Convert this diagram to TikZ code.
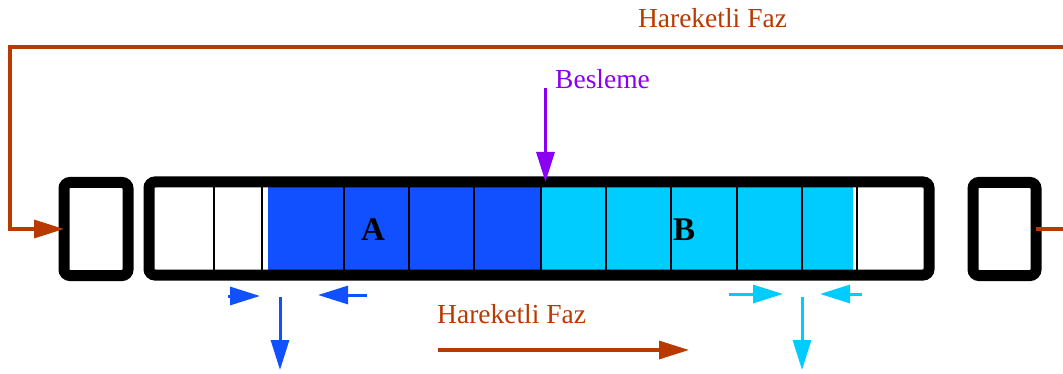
\documentclass[tikz,border=0pt]{standalone}
\usepackage{fontspec}
\setmainfont{Liberation Serif}
\usetikzlibrary{arrows.meta}
\definecolor{ora}{HTML}{B83A00}
\definecolor{vio}{HTML}{8A00F0}
\definecolor{blu}{HTML}{1150FF}
\definecolor{cya}{HTML}{00CCFF}
\begin{document}
\begin{tikzpicture}[x=1pt,y=-1pt,
  box/.style={draw=black, line width=11pt, rounded corners=6pt, inner sep=0pt, outer sep=0pt},
  lbl/.style={font=\fontsize{27.5}{27.5}\selectfont, text=ora, inner sep=0pt},
  big/.style={font=\bfseries\fontsize{33}{33}\selectfont, inner sep=0pt},
  tip/.style={-{Triangle[length=30pt,width=18pt]}},
  oline/.style={draw=ora, line width=3.2pt, tip},
  vline/.style={draw=vio, line width=3.2pt, tip},
  bline/.style={draw=blu, line width=3pt, tip},
  cline/.style={draw=cya, line width=3pt, tip},
  cell/.style={draw=black, line width=2.2pt}]
\useasboundingbox (0,0) rectangle (1063,374);
% cell fills
\fill[blu] (268,186) rectangle (541,270);
\fill[cya] (541,186) rectangle (853,270);
\foreach \x in {214,262,344,409,474,541,606,671,737,802,857}
  \draw[cell] (\x,186) -- (\x,270);
% boxes
\node[box, minimum width=64pt, minimum height=93pt] (lbox) at (96,229) {};
\node[box, minimum width=780pt, minimum height=93pt] (bar) at (539,228.5) {};
\node[box, minimum width=63pt, minimum height=93pt] (rbox) at (1004.5,229) {};
% labels
\node[big] (A) at (373,230) {A};
\node[big] (B) at (684,230) {B};
\node[lbl, anchor=base] (top) at (712.5,28) {Hareketli Faz};
\node[lbl, text=vio, anchor=base west] (bes) at (555,89) {Besleme};
\node[lbl, anchor=base west] (bot) at (437,323) {Hareketli Faz};
% feedback loop
\coordinate (rt) at (1080,229);
\coordinate (tl) at (10,47);
\draw[oline] (rbox.east) -- (rt) |- (tl) |- (lbox.west);
% feed
\coordinate (fs) at (545.5,88);
\draw[vline] (fs) -- (fs |- bar.north);
% moving phase arrow
\coordinate (m1) at (438,350);
\coordinate (m2) at (689,350);
\draw[oline] (m1) -- (m2);
% blue outlet
\coordinate (ba1) at (228,296); \coordinate (ba2) at (260,296);
\coordinate (bb1) at (367,295); \coordinate (bb2) at (318,295);
\coordinate (bc1) at (280,297); \coordinate (bc2) at (280,370);
\draw[bline] (ba1) -- (ba2);
\draw[bline] (bb1) -- (bb2);
\draw[bline] (bc1) -- (bc2);
% cyan outlet
\coordinate (ca1) at (729,294); \coordinate (ca2) at (783,294);
\coordinate (cb1) at (862,294); \coordinate (cb2) at (820,294);
\coordinate (cc1) at (802,297); \coordinate (cc2) at (802,370);
\draw[cline] (ca1) -- (ca2);
\draw[cline] (cb1) -- (cb2);
\draw[cline] (cc1) -- (cc2);
\end{tikzpicture}
\end{document}
